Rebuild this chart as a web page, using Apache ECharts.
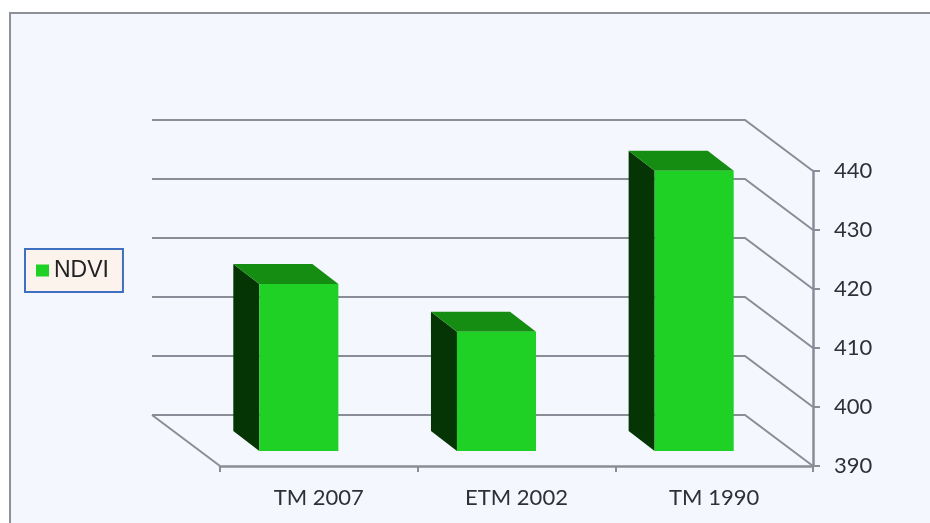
<!DOCTYPE html>
<html>
<head>
<meta charset="utf-8">
<style>
html,body{margin:0;padding:0;background:#fff;width:930px;height:523px;overflow:hidden}
#panel{position:absolute;left:9px;top:12px;width:921px;height:511px;background:#f4f8fe;border-left:2px solid #8e909c;border-top:2px solid #8e909c;box-sizing:border-box}
#chart{position:absolute;left:0;top:0;width:930px;height:523px}
</style>
<script src="https://cdn.jsdelivr.net/npm/echarts@6/dist/echarts.min.js"></script>
</head>
<body>
<div id="panel"></div>
<div id="chart"></div>
<script>
const categories = ['TM 2007', 'ETM 2002', 'TM 1990'];
const ndviValues = [418.3, 410.2, 437.5];
const valueTicks = [390, 400, 410, 420, 430, 440];
const seriesName = 'NDVI';

const wallDepth = { x: -68, y: -51 };
const barInset = { x: -20, y: -15 };
const barDepth = { x: -26, y: -20 };
const gridColor = '#8a8c98';
const textColor = '#2e3038';
const frontColor = '#1fd124';
const topColor = '#158c12';
const sideColor = '#053505';
const barShare = 0.4;

const chart = echarts.init(document.getElementById('chart'), null, { renderer: 'canvas' });

function renderWall(params, api) {
  const sys = params.coordSys;
  const y = api.coord([0, api.value(0)])[1];
  const right = sys.x + sys.width;
  const pts = [
    [sys.x + wallDepth.x, y + wallDepth.y],
    [right + wallDepth.x, y + wallDepth.y],
    [right, y]
  ];
  const children = [{
    type: 'polyline',
    shape: { points: pts },
    style: { stroke: gridColor, lineWidth: 2, fill: null }
  }];
  if (params.dataIndex === 0) {
    children.push({
      type: 'line',
      shape: { x1: sys.x + wallDepth.x, y1: y + wallDepth.y, x2: sys.x, y2: y },
      style: { stroke: gridColor, lineWidth: 2 }
    });
  }
  return { type: 'group', children };
}

function renderBar(params, api) {
  const idx = api.value(0);
  const top = api.coord([idx, api.value(1)]);
  const base = api.coord([idx, valueTicks[0]]);
  const w = api.size([1, 0])[0] * barShare;
  const l = top[0] - w / 2 + barInset.x;
  const r = l + w;
  const t = top[1] + barInset.y;
  const b = base[1] + barInset.y;
  const dx = barDepth.x, dy = barDepth.y;
  return {
    type: 'group',
    children: [
      { type: 'polygon', shape: { points: [[l, t], [l + dx, t + dy], [l + dx, b + dy], [l, b]] }, style: { fill: sideColor } },
      { type: 'polygon', shape: { points: [[l, t], [l + dx, t + dy], [r + dx, t + dy], [r, t]] }, style: { fill: topColor } },
      { type: 'rect', shape: { x: l, y: t, width: w, height: b - t }, style: { fill: frontColor } }
    ]
  };
}

chart.setOption({
  animation: false,
  backgroundColor: 'transparent',
  textStyle: { fontFamily: 'Lato' },
  grid: { left: 220, right: 117, top: 171, bottom: 57 },
  legend: {
    show: true,
    left: 25,
    top: 249,
    orient: 'vertical',
    data: [{ name: seriesName, icon: 'rect' }],
    itemWidth: 13,
    itemHeight: 12,
    padding: [10, 14, 10, 11],
    backgroundColor: '#fbf3ec',
    borderColor: '#3f6fc0',
    borderWidth: 2,
    textStyle: { fontFamily: 'Liberation Sans', fontSize: 23, color: '#222222' }
  },
  xAxis: {
    type: 'category',
    data: categories,
    axisLine: { show: true, lineStyle: { color: gridColor, width: 2.5 } },
    axisTick: { show: true, length: 6, lineStyle: { color: gridColor, width: 2 } },
    axisLabel: { color: textColor, fontFamily: 'Lato', fontSize: 22, margin: 21 },
    splitLine: { show: false }
  },
  yAxis: {
    type: 'value',
    position: 'right',
    min: 390,
    max: 440,
    interval: 10,
    axisLine: { show: true, lineStyle: { color: gridColor, width: 2.5 } },
    axisTick: { show: true, length: 7, lineStyle: { color: gridColor, width: 2 } },
    axisLabel: { color: textColor, fontFamily: 'Lato', fontSize: 22, margin: 21 },
    splitLine: { show: false }
  },
  series: [
    {
      type: 'custom',
      name: 'wall',
      z: 1,
      silent: true,
      renderItem: renderWall,
      encode: { y: 0 },
      data: valueTicks.map(v => [v])
    },
    {
      type: 'custom',
      name: seriesName,
      z: 3,
      itemStyle: { color: frontColor },
      renderItem: renderBar,
      encode: { x: 0, y: 1 },
      data: ndviValues.map((v, i) => [i, v])
    }
  ]
});
</script>
</body>
</html>
